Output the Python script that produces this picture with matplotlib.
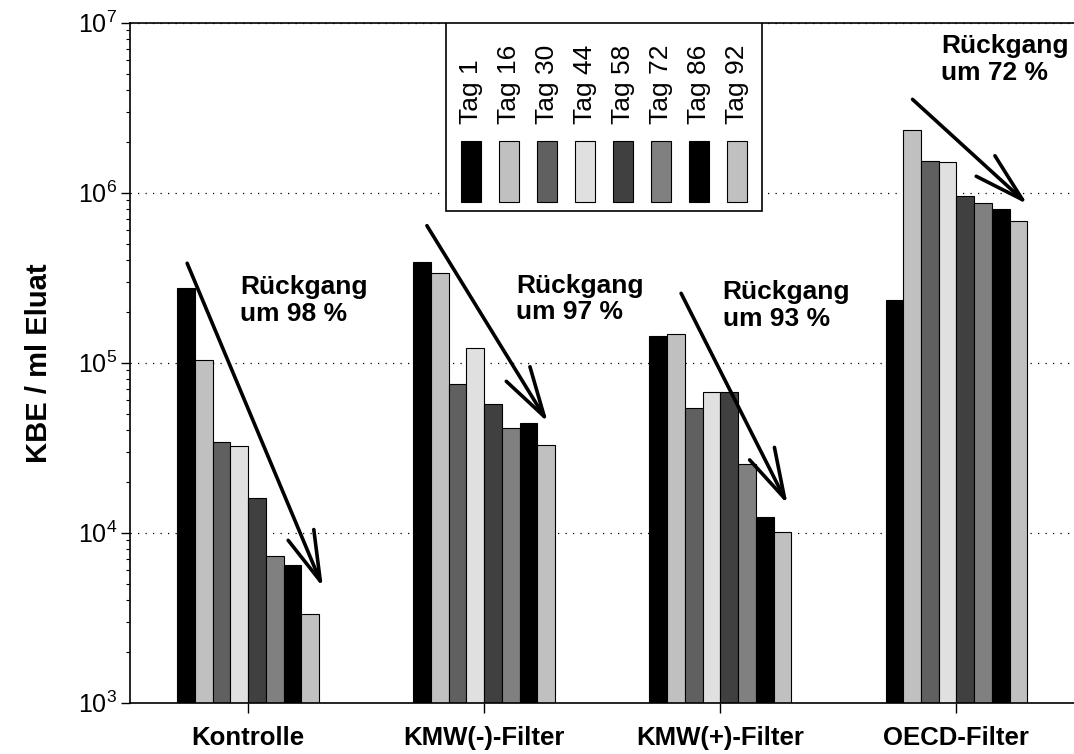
import numpy as np
import matplotlib
matplotlib.use("Agg")
import matplotlib.pyplot as plt
from matplotlib.patches import FancyArrowPatch, Rectangle, ArrowStyle
from matplotlib.ticker import LogLocator, NullFormatter

plt.rcParams['font.family'] = ['Liberation Sans', 'DejaVu Sans']
plt.rcParams['mathtext.fontset'] = 'custom'
plt.rcParams['mathtext.rm'] = 'Liberation Sans'
plt.rcParams['mathtext.it'] = 'Liberation Sans:italic'
plt.rcParams['mathtext.bf'] = 'Liberation Sans:bold'

# Filter variants (groups) and sampling days (series)
groups = ["Kontrolle", "KMW(-)-Filter", "KMW(+)-Filter", "OECD-Filter"]
days = ["Tag 1", "Tag 16", "Tag 30", "Tag 44", "Tag 58", "Tag 72", "Tag 86", "Tag 92"]
day_colors = ["#000000", "#C0C0C0", "#606060", "#E0E0E0",
              "#404040", "#808080", "#000000", "#C0C0C0"]

# KBE per ml eluate, one list per filter variant (Tag 1 ... Tag 92)
kontrolle = [2.75e5, 1.04e5, 3.41e4, 3.22e4, 1.61e4, 7.3e3, 6.5e3, 3.33e3]
kmw_minus = [3.91e5, 3.36e5, 7.5e4, 1.22e5, 5.7e4, 4.13e4, 4.42e4, 3.27e4]
kmw_plus = [1.44e5, 1.48e5, 5.44e4, 6.73e4, 6.73e4, 2.54e4, 1.24e4, 1.01e4]
oecd = [2.33e5, 2.34e6, 1.53e6, 1.51e6, 9.6e5, 8.7e5, 8.0e5, 6.8e5]

# Decline annotations: text, arrow start/end (x in group units, log10 of KBE)
decline_text = ["R\u00fcckgang\num 98 %", "R\u00fcckgang\num 97 %",
                "R\u00fcckgang\num 93 %", "R\u00fcckgang\num 72 %"]
text_pos = [(-0.035, 5.247), (1.136, 5.257), (2.010, 5.218), (2.934, 6.665)]
arrow_from = [(-0.258, 5.585), (0.7575, 5.806), (1.834, 5.408), (2.814, 6.549)]
arrow_to = [(0.317, 3.679), (1.2696, 4.649), (2.285, 4.167), (3.301, 5.932)]

values = np.array([kontrolle, kmw_minus, kmw_plus, oecd])

fig = plt.figure(figsize=(10.74, 7.54), dpi=100)
ax = fig.add_axes([130 / 1074, 51.3 / 754, 944.5 / 1074, 680 / 754])

ax.set_yscale("log")
x = np.arange(len(groups))
bar_w = 0.0751
for i, (day, col) in enumerate(zip(days, day_colors)):
    ax.bar(x + (i - 3.5) * bar_w, values[:, i], width=bar_w,
           color=col, edgecolor="black", linewidth=0.8, zorder=2)

ax.set_ylim(1e3, 1e7)
ax.set_xlim(-0.5, 3.5)

ax.yaxis.set_major_locator(LogLocator(base=10, numticks=10))
ax.yaxis.set_minor_locator(LogLocator(base=10, subs=np.arange(2, 10), numticks=10))
ax.yaxis.set_minor_formatter(NullFormatter())
ax.grid(axis="y", which="major", color="black", linestyle=(0, (1, 5)),
        linewidth=0.9, zorder=0)

ax.set_xticks(x)
ax.set_xticklabels(groups, fontsize=18.5, fontweight="bold")
ax.tick_params(axis="x", direction="out", length=7.5, width=1, pad=9)
ax.tick_params(axis="y", which="major", direction="out", length=6.5, width=1,
               labelsize=18, pad=3)
ax.tick_params(axis="y", which="minor", direction="out", length=3, width=0.8)

for side in ("left", "top", "bottom"):
    ax.spines[side].set_linewidth(1.2)
ax.spines["right"].set_visible(False)

ax.set_ylabel("KBE / ml Eluat", fontsize=21, fontweight="bold", labelpad=18)

# Decline arrows and labels
for txt, tp, a0, a1 in zip(decline_text, text_pos, arrow_from, arrow_to):
    ax.text(tp[0], 10 ** tp[1], txt, fontsize=19, fontweight="bold",
            ha="left", va="baseline", linespacing=1.13, zorder=5)
    arr = FancyArrowPatch((a0[0], 10 ** a0[1]), (a1[0], 10 ** a1[1]),
                          arrowstyle=ArrowStyle("->", head_length=3.6, head_width=1.0),
                          mutation_scale=10, linewidth=2.6, color="black",
                          shrinkA=0, shrinkB=0, zorder=5)
    ax.add_patch(arr)

# Legend box with vertical day labels
box = Rectangle((0.3346, 0.7231), 0.6691 - 0.3346, 1.0 - 0.7231,
                transform=ax.transAxes, facecolor="white", edgecolor="black",
                linewidth=1.2, zorder=6)
ax.add_patch(box)
sw_w, sw_step, sw_x0 = 0.0215, 0.04023, 0.3501
for i, (day, col) in enumerate(zip(days, day_colors)):
    left = sw_x0 + i * sw_step
    ax.add_patch(Rectangle((left, 0.7368), sw_w, 0.0897, transform=ax.transAxes,
                           facecolor=col, edgecolor="black", linewidth=0.8,
                           zorder=7))
    ax.text(left + sw_w / 2, 0.851, day, transform=ax.transAxes, rotation=90,
            ha="center", va="bottom", fontsize=19, zorder=7)

fig.savefig("out.png", dpi=100)
